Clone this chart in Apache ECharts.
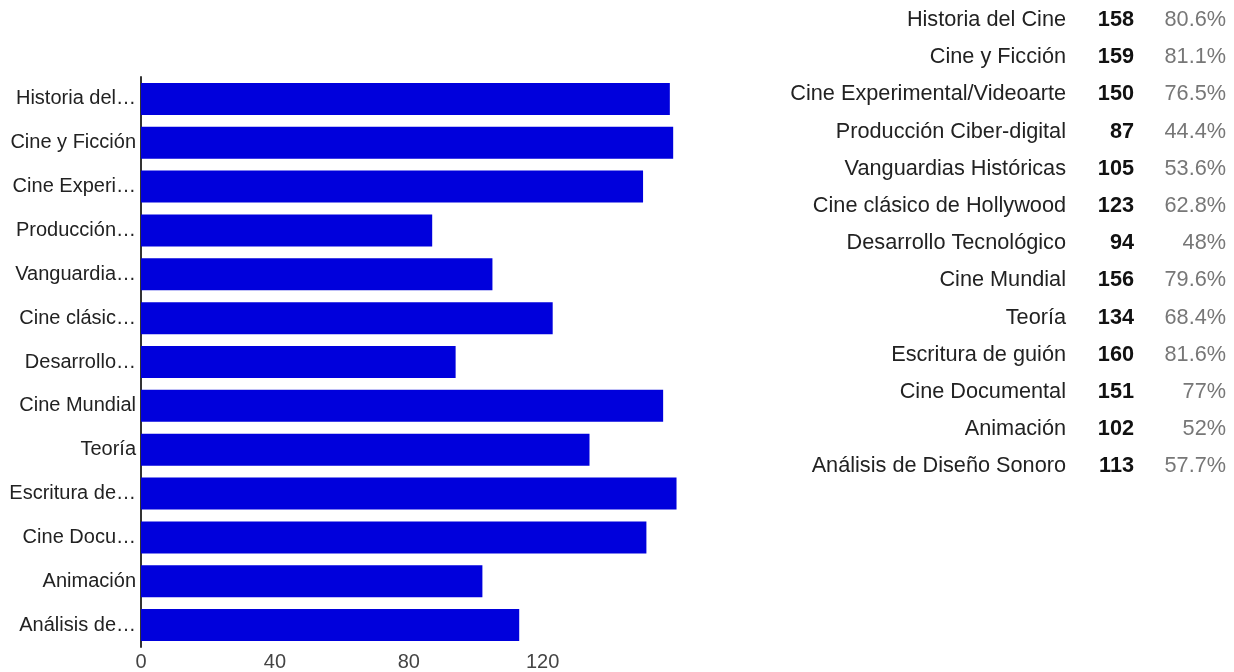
<!DOCTYPE html>
<html>
<head>
<meta charset="utf-8">
<script src="https://cdn.jsdelivr.net/npm/echarts@6/dist/echarts.min.js"></script>
<style>
html,body{margin:0;padding:0;background:#fff;}
#chart{width:1234px;height:672px;}
</style>
</head>
<body>
<div id="chart"></div>
<script>
const categories = ['Historia del Cine','Cine y Ficción','Cine Experimental/Videoarte','Producción Ciber-digital','Vanguardias Históricas','Cine clásico de Hollywood','Desarrollo Tecnológico','Cine Mundial','Teoría','Escritura de guión','Cine Documental','Animación','Análisis de Diseño Sonoro'];
const shortLabels = ['Historia del…','Cine y Ficción','Cine Experi…','Producción…','Vanguardia…','Cine clásic…','Desarrollo…','Cine Mundial','Teoría','Escritura de…','Cine Docu…','Animación','Análisis de…'];
const counts = [158,159,150,87,105,123,94,156,134,160,151,102,113];
const percents = ['80.6%','81.1%','76.5%','44.4%','53.6%','62.8%','48%','79.6%','68.4%','81.6%','77%','52%','57.7%'];
const xTickLabels = ['0','40','80','120'];

const FONT = '"Liberation Sans", Arial, sans-serif';
const chart = echarts.init(document.getElementById('chart'));

const graphics = [];
categories.forEach((name, i) => {
  const y = 20 + i * 37.2;
  graphics.push({type:'text', x:1066, y:y, style:{text:name, fill:'#222', font:'21.7px ' + FONT, align:'right', verticalAlign:'middle', textAlign:'right', textVerticalAlign:'middle'}});
  graphics.push({type:'text', x:1134, y:y, style:{text:String(counts[i]), fill:'#111', font:'bold 21.7px ' + FONT, align:'right', verticalAlign:'middle', textAlign:'right', textVerticalAlign:'middle'}});
  graphics.push({type:'text', x:1226, y:y, style:{text:percents[i], fill:'#777', font:'21.7px ' + FONT, align:'right', verticalAlign:'middle', textAlign:'right', textVerticalAlign:'middle'}});
});

chart.setOption({
  animation:false,
  grid:{left:141, right:524, top:77, bottom:24, containLabel:false},
  xAxis:{
    type:'value', min:0, max:170, interval:40,
    axisLine:{show:false}, axisTick:{show:false}, splitLine:{show:false},
    axisLabel:{
      margin:5, color:'#444', fontSize:20, fontFamily:FONT,
      showMaxLabel:false,
      formatter:function(v){ const s = String(v); return xTickLabels.indexOf(s) >= 0 ? s : ''; }
    }
  },
  yAxis:{
    type:'category', data:categories, inverse:true,
    axisLine:{show:true, lineStyle:{color:'#333', width:2}},
    axisTick:{show:false}, splitLine:{show:false},
    axisLabel:{
      margin:5, color:'#222', fontSize:20, fontFamily:FONT,
      formatter:function(v, idx){ return shortLabels[idx]; }
    }
  },
  series:[{
    type:'bar', data:counts, barCategoryGap:'27%',
    itemStyle:{color:'#0000DC'}, z:1
  }],
  graphic:graphics
});
</script>
</body>
</html>
